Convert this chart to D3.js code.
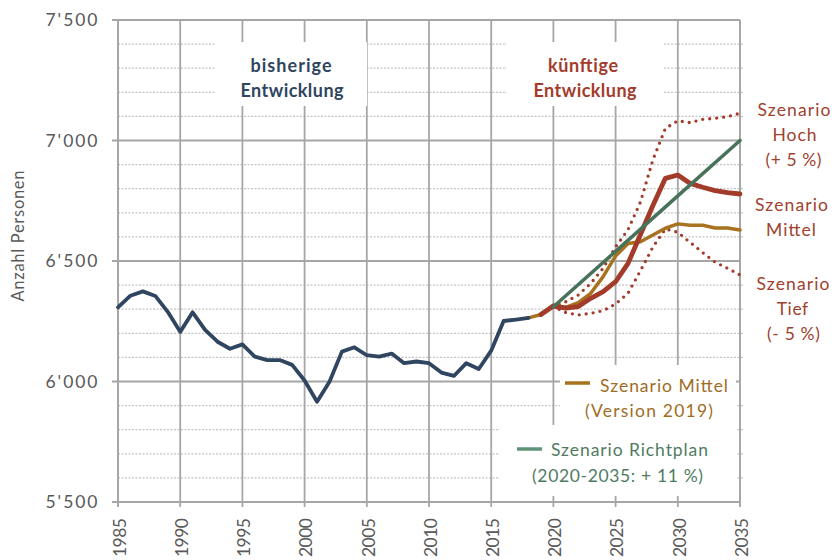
<!DOCTYPE html>
<html><head><meta charset="utf-8">
<script src="https://cdn.jsdelivr.net/npm/d3@7"></script>
<style>body{margin:0;background:#fff} svg{display:block}</style>
</head><body><svg id="c" width="836" height="560"></svg>
<script>
// ---------- data ----------
const histYears = [1985,1986,1987,1988,1989,1990,1991,1992,1993,1994,1995,1996,1997,1998,1999,2000,2001,2002,2003,2004,2005,2006,2007,2008,2009,2010,2011,2012,2013,2014,2015,2016,2017,2018];
const histValues = [6308,6356,6374,6355,6289,6206,6287,6214,6165,6136,6154,6103,6089,6089,6069,6004,5916,5999,6124,6142,6109,6103,6116,6076,6083,6076,6037,6023,6076,6052,6128,6251,6257,6264];

const v2019Years = [2018,2019,2020,2021,2022,2023,2024,2025,2026,2027,2028,2029,2030,2031,2032,2033,2034,2035];
const v2019Values = [6264,6278,6317,6308,6327,6366,6435,6521,6573,6580,6608,6636,6654,6648,6648,6637,6637,6629];

const scenYears = [2019,2020,2021,2022,2023,2024,2025,2026,2027,2028,2029,2030,2031,2032,2033,2034,2035];
const mittelValues = [6278,6313,6304,6311,6345,6373,6414,6490,6610,6730,6843,6857,6822,6806,6792,6784,6778];
const hochValues   = [6278,6310,6331,6359,6407,6470,6559,6630,6745,6920,7050,7082,7074,7088,7092,7099,7113];
const tiefValues   = [6278,6310,6286,6276,6283,6294,6322,6366,6460,6558,6633,6619,6577,6535,6495,6470,6442];

const richtplanYears = [2020,2025,2030,2035];
const richtplanValues = [6310,6540,6770,7000];

const xTicks = [1985,1990,1995,2000,2005,2010,2015,2020,2025,2030,2035];
const yTicks = [5500,6000,6500,7000,7500];
const yTickLabels = ["5'500","6'000","6'500","7'000","7'500"];
const yMinorTicks = [5600,5700,5800,5900,6100,6200,6300,6400,6600,6700,6800,6900,7100,7200,7300,7400];

// ---------- setup ----------
const svg = d3.select("#c");
const FONT = "Lato, 'Open Sans', sans-serif";
const x = d3.scaleLinear().domain([1985, 2035]).range([118, 740]);
const y = d3.scaleLinear().domain([5500, 7500]).range([502, 20]);

const C = {
  grid: "#a6a6a6", minor: "#c4c4c4",
  hist: "#2f4560", red: "#a33b2a", orange: "#a8721f", green: "#48725a",
  redText: "#a0412e", orangeText: "#a06d1f", greenText: "#4f7b63", axisText: "#595959"
};

const g = svg.append("g");

// minor dotted gridlines
g.selectAll(".minor").data(yMinorTicks).join("line")
  .attr("x1", x(1985)).attr("x2", x(2035) + 3)
  .attr("y1", d => y(d)).attr("y2", d => y(d))
  .attr("stroke", C.minor).attr("stroke-width", 1.3).attr("stroke-dasharray", "2,1.5");

// major horizontal gridlines
g.selectAll(".hmaj").data(yTicks).join("line")
  .attr("x1", x(1985) - 6).attr("x2", x(2035))
  .attr("y1", d => y(d)).attr("y2", d => y(d))
  .attr("stroke", C.grid).attr("stroke-width", 1.8);

// vertical gridlines
g.selectAll(".vmaj").data(xTicks).join("line")
  .attr("x1", d => x(d)).attr("x2", d => x(d))
  .attr("y1", y(7500)).attr("y2", y(5500) + 5)
  .attr("stroke", C.grid).attr("stroke-width", 1.8);

// white boxes (annotations & legend) covering gridlines
const boxes = [
  [215, 42, 367, 106],
  [507, 42, 663, 106],
  [560, 365, 736, 425],
  [500, 425, 736, 496]
];
g.selectAll(".box").data(boxes).join("rect")
  .attr("x", d => d[0]).attr("y", d => d[1])
  .attr("width", d => d[2] - d[0]).attr("height", d => d[3] - d[1])
  .attr("fill", "#fff");

g.append("line").attr("x1", x(2035)).attr("x2", x(2035)).attr("y1", y(7500)).attr("y2", y(5500) + 5)
  .attr("stroke", C.grid).attr("stroke-width", 1.8);
g.append("line").attr("x1", x(1985)).attr("x2", x(1985)).attr("y1", y(7500) - 1).attr("y2", y(5500) + 5)
  .attr("stroke", C.grid).attr("stroke-width", 1.8);

// ---------- lines ----------
const line = d3.line().x(d => x(d[0])).y(d => y(d[1]));
const zip = (a, b) => a.map((v, i) => [v, b[i]]);

function drawLine(data, color, width, dash) {
  const p = g.append("path").attr("d", line(data)).attr("fill", "none")
    .attr("stroke", color).attr("stroke-width", width)
    .attr("stroke-linejoin", "round").attr("stroke-linecap", "round");
  if (dash) p.attr("stroke-dasharray", dash);
  return p;
}
drawLine(zip(scenYears, hochValues), C.red, 3.3, "0,7");
drawLine(zip(scenYears, tiefValues), C.red, 3.3, "0,7");
drawLine(zip(v2019Years, v2019Values), C.orange, 3.5);
drawLine(zip(scenYears, mittelValues), C.red, 4.8);
drawLine(zip(richtplanYears, richtplanValues), C.green, 3.5);
drawLine(zip(histYears, histValues), C.hist, 3.8);

// ---------- text helper ----------
function txt(t, xPos, yPos, opts) {
  const el = g.append("text").attr("x", xPos).attr("y", yPos)
    .attr("font-family", FONT).attr("font-size", opts.size || 17)
    .attr("font-weight", opts.weight || "normal")
    .attr("fill", opts.color).attr("text-anchor", opts.anchor || "start").text(t);
  if (opts.len) el.attr("textLength", opts.len).attr("lengthAdjust", "spacing");
  if (opts.dy) el.attr("dy", opts.dy);
  if (opts.transform) el.attr("transform", opts.transform);
  return el;
}

// ---------- axis labels ----------
yTicks.forEach((d, i) => txt(yTickLabels[i], 97.5, y(d), {size: 17.5, color: C.axisText, anchor: "end", dy: "0.36em", len: 52}));

xTicks.forEach(d => txt(String(d), 0, 0, {size: 17.5, color: C.axisText, anchor: "end", dy: "0.36em", len: 39,
  transform: `translate(${x(d) + 1.5},518) rotate(-90)`}));

txt("Anzahl Personen", 0, 0, {size: 16.5, color: C.axisText, anchor: "middle", len: 131, transform: "translate(24,236) rotate(-90)"});

// ---------- annotations ----------
txt("bisherige", 291, 72, {size: 18, weight: "bold", color: C.hist, anchor: "middle", len: 81});
txt("Entwicklung", 292, 97, {size: 18, weight: "bold", color: C.hist, anchor: "middle", len: 103});
txt("künftige", 583, 72, {size: 18, weight: "bold", color: C.red, anchor: "middle", len: 70});
txt("Entwicklung", 585, 97, {size: 18, weight: "bold", color: C.red, anchor: "middle", len: 103});

const RS = 17.5;
txt("Szenario", 794, 116, {size: RS, color: C.redText, anchor: "middle", len: 73});
txt("Hoch", 794.5, 141, {size: RS, color: C.redText, anchor: "middle", len: 44});
txt("(+ 5 %)", 793.5, 166, {size: RS, color: C.redText, anchor: "middle", len: 56});
txt("Szenario", 791.5, 211, {size: RS, color: C.redText, anchor: "middle", len: 73});
txt("Mittel", 791, 235.5, {size: RS, color: C.redText, anchor: "middle", len: 50});
txt("Szenario", 793, 290, {size: RS, color: C.redText, anchor: "middle", len: 73});
txt("Tief", 792.5, 315, {size: RS, color: C.redText, anchor: "middle", len: 31.5});
txt("(- 5 %)", 793.5, 340, {size: RS, color: C.redText, anchor: "middle", len: 53});

// ---------- legend ----------
g.append("line").attr("x1", 565).attr("x2", 590).attr("y1", 383).attr("y2", 383)
  .attr("stroke", C.orange).attr("stroke-width", 3.5);
txt("Szenario Mittel", 600, 392, {size: RS, color: C.orangeText, len: 128});
txt("(Version 2019)", 585, 417, {size: RS, color: C.orangeText, len: 128});

g.append("line").attr("x1", 517).attr("x2", 542).attr("y1", 449).attr("y2", 449)
  .attr("stroke", "#5f9478").attr("stroke-width", 3.5);
txt("Szenario  Richtplan", 551, 456, {size: RS, color: C.greenText, len: 157});
txt("(2020-2035: + 11 %)", 532, 482, {size: RS, color: C.greenText, len: 171});
</script></body></html>
